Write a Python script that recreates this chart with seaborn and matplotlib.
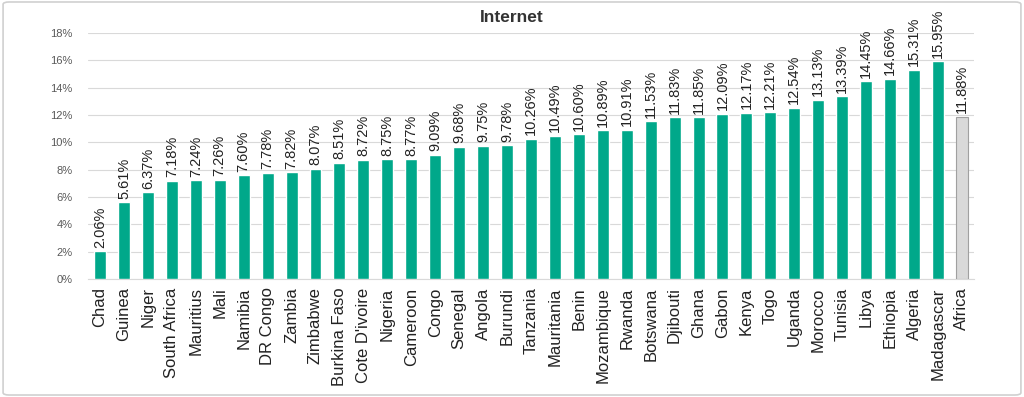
import matplotlib
matplotlib.use("Agg")
import matplotlib.pyplot as plt
import pandas as pd
import seaborn as sns
from matplotlib.patches import FancyBboxPatch
from matplotlib.ticker import FuncFormatter

countries = [
    "Chad", "Guinea", "Niger", "South Africa", "Mauritius", "Mali", "Namibia",
    "DR Congo", "Zambia", "Zimbabwe", "Burkina Faso", "Cote D'ivoire", "Nigeria",
    "Cameroon", "Congo", "Senegal", "Angola", "Burundi", "Tanzania", "Mauritania",
    "Benin", "Mozambique", "Rwanda", "Botswana", "Djibouti", "Ghana", "Gabon",
    "Kenya", "Togo", "Uganda", "Morocco", "Tunisia", "Libya", "Ethiopia",
    "Algeria", "Madagascar", "Africa",
]
internet = [
    2.06, 5.61, 6.37, 7.18, 7.24, 7.26, 7.60, 7.78, 7.82, 8.07, 8.51, 8.72,
    8.75, 8.77, 9.09, 9.68, 9.75, 9.78, 10.26, 10.49, 10.60, 10.89, 10.91,
    11.53, 11.83, 11.85, 12.09, 12.17, 12.21, 12.54, 13.13, 13.39, 14.45,
    14.66, 15.31, 15.95, 11.88,
]
y_ticks = [0, 2, 4, 6, 8, 10, 12, 14, 16, 18]

teal = "#00a88a"
grey = "#d9d9d9"

df = pd.DataFrame({"country": countries, "value": internet})

sns.set_style("white")
plt.rcParams["font.family"] = ["Liberation Sans", "DejaVu Sans"]

fig = plt.figure(figsize=(10.24, 3.97), dpi=100)
ax = fig.add_axes([0.086, 0.297, 0.865, 0.62])

palette = [teal] * (len(countries) - 1) + [grey]
sns.barplot(data=df, x="country", y="value", hue="country", palette=palette,
            legend=False, width=0.5, saturation=1, ax=ax, zorder=3)

# outline the Africa average bar
ax.patches[-1].set_edgecolor("#a0a0a0")
ax.patches[-1].set_linewidth(0.8)

for i, v in enumerate(internet):
    ax.text(i, v + 0.25, f"{v:.2f}%", rotation=90, ha="center", va="bottom",
            fontsize=10.5, color="#222222")

ax.set_ylim(0, 18)
ax.set_xlim(-0.5, len(countries) - 0.5)
ax.set_yticks(y_ticks)
ax.yaxis.set_major_formatter(FuncFormatter(lambda v, _: f"{v:.0f}%"))
ax.tick_params(axis="y", labelsize=8, labelcolor="#595959", length=0, pad=11)
ax.tick_params(axis="x", labelsize=12, labelcolor="#222222", length=0, pad=6)
plt.setp(ax.get_xticklabels(), rotation=90)
ax.grid(axis="y", color="#d9d9d9", linewidth=0.8, zorder=0)
ax.set_xlabel("")
ax.set_ylabel("")
for side in ["top", "right", "left"]:
    ax.spines[side].set_visible(False)
ax.spines["bottom"].set_color("#d9d9d9")

fig.text(0.5, 0.955, "Internet", ha="center", va="center", fontsize=12.5,
         color="#333333", fontweight="semibold")

border = FancyBboxPatch((0.003, 0.005), 0.994, 0.99,
                        boxstyle="round,pad=0,rounding_size=0.006",
                        transform=fig.transFigure, fill=False,
                        edgecolor="#d0d0d0", linewidth=1.2)
fig.patches.append(border)

fig.savefig("out.png", dpi=100)
